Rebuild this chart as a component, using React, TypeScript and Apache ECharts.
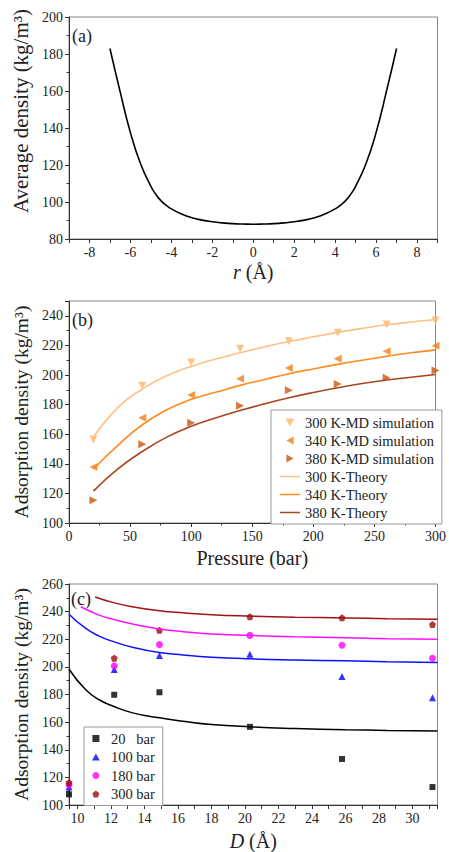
import React, { useEffect, useRef } from "react";
import * as echarts from "echarts";

// ---------- Panel (a) ----------
const aR = [-7, -6.5, -6, -5.5, -5, -4.75, -4.5, -4.25, -4, -3.5, -3, -2.5, -2, -1.5, -1, -0.5, 0, 0.5, 1, 1.5, 2, 2.5, 3, 3.5, 4, 4.25, 4.5, 4.75, 5, 5.5, 6, 6.5, 7];
const aDensity = [183, 159.5, 137.5, 120.5, 108.5, 104, 100.6, 98.2, 96.3, 93.5, 91.5, 90.2, 89.3, 88.7, 88.3, 88.1, 88.0, 88.1, 88.3, 88.7, 89.3, 90.2, 91.5, 93.5, 96.3, 98.2, 100.6, 104, 108.5, 120.5, 137.5, 159.5, 183];

// ---------- Panel (b) ----------
const bPressureMD = [20, 60, 100, 140, 180, 220, 260, 300];
const bMD300 = [156.5, 192.8, 208.4, 217.7, 222.8, 228.5, 234.2, 236.8];
const bMD340 = [137.8, 171.1, 186.5, 197.4, 204.8, 210.9, 216, 219.7];
const bMD380 = [115.4, 153.2, 167.8, 179.3, 189.7, 194, 198.2, 203];
const bPressureTh = [20, 40, 60, 80, 100, 120, 140, 160, 180, 200, 220, 240, 260, 280, 300];
const bTh300 = [158, 178, 190.5, 199.5, 205.8, 210.8, 215, 219, 222.6, 225.8, 228.8, 231.5, 233.9, 235.8, 237.5];
const bTh340 = [136.5, 152.5, 166.4, 176.5, 183.6, 188.3, 193, 197, 200.8, 204.1, 207.2, 210, 212.6, 215, 217];
const bTh380 = [121.5, 136.5, 148.3, 158, 165.3, 171, 176, 180.5, 184.6, 188.2, 191.4, 194.2, 196.6, 198.5, 200.3];

// ---------- Panel (c) ----------
const cD = [9.5, 12.2, 14.9, 20.3, 25.8, 31.2];
const c20 = [107.7, 179.8, 181.6, 156.6, 133.3, 113];
const c100 = [113, 198.1, 208.2, 209.1, 193, 177.7];
const c180 = [114.4, 200.7, 216.1, 222.8, 215.6, 206.3];
const c300 = [116.3, 206.3, 226.6, 236.2, 235.5, 230.7];
const cThD = [9.5, 10.5, 11.3, 12.15, 13.3, 14.9, 16.3, 18, 20.3, 23, 26, 28.5, 31.5];
const cTh20 = [198.3, 183.4, 176.2, 171.5, 166.7, 163.1, 160.7, 158.3, 156.6, 155.4, 154.5, 154, 153.5];
const cTh100 = [238.1, 227.8, 222.3, 218.3, 214.2, 210.4, 208.6, 207, 205.8, 205, 204.4, 203.8, 203.2];
const cTh180D = [10.2, 11.3, 12.15, 13.3, 14.9, 16.3, 18, 20.3, 23, 26, 28.5, 31.5];
const cTh180 = [243.5, 237.5, 234.4, 231, 227.5, 225.5, 223.8, 222.8, 221.8, 221, 220.4, 220];
const cTh300D = [11.06, 12.15, 13.3, 14.9, 16.3, 18, 20.3, 23, 26, 28.5, 31.5];
const cTh300 = [250.6, 246.5, 243.5, 240.6, 239.1, 237.8, 236.8, 236, 235.4, 234.9, 234.4];

const bLegendMD = ["300 K-MD simulation", "340 K-MD simulation", "380 K-MD simulation"];
const bLegendTh = ["300 K-Theory", "340 K-Theory", "380 K-Theory"];
const cLegend = ["20\u00a0\u00a0\u00a0bar", "100 bar", "180 bar", "300 bar"];

const FONT = "Liberation Serif, serif";
const TXT = "#222";

const zip = (xs: number[], ys: number[]) => xs.map((x, i) => [x, ys[i]]);

const TRI_DOWN = "path://M0,0 L10,0 L5,9 Z";
const TRI_LEFT = "path://M9,0 L9,10 L0,5 Z";
const TRI_RIGHT = "path://M0,0 L0,10 L9,5 Z";
const TRI_UP = "path://M5,0 L10,9 L0,9 Z";
const PENTA = "path://M5,0 L10,3.8 L8.1,10 L1.9,10 L0,3.8 Z";
const SQUARE = "path://M0,0 L10,0 L10,10 L0,10 Z";
const LINE_ICON = "path://M0,0 L40,0 L40,3 L0,3 Z";

function xAxisBase(gridIndex: number, min: number, max: number, extra: any) {
  return {
    type: "value",
    gridIndex,
    min,
    max,
    nameLocation: "middle",
    axisLine: { show: true, onZero: false, lineStyle: { color: "#333", width: 1 } },
    axisTick: { show: true, inside: false, length: 4, lineStyle: { color: "#333" } },
    axisLabel: { color: TXT, fontFamily: FONT, fontSize: 14, margin: 6 },
    splitLine: { show: false },
    ...extra,
  };
}

function yAxisBase(gridIndex: number, min: number, max: number, name: string, nameStyle: any, extra: any) {
  return {
    type: "value",
    gridIndex,
    min,
    max,
    interval: 20,
    name,
    nameLocation: "middle",
    nameGap: 38,
    nameTextStyle: { color: TXT, fontFamily: FONT, ...nameStyle },
    axisLine: { show: true, onZero: false, lineStyle: { color: "#333", width: 1 } },
    axisTick: { show: true, inside: false, length: 4, lineStyle: { color: "#333" } },
    minorTick: { show: true, splitNumber: 2, length: 2.5, lineStyle: { color: "#333" } },
    axisLabel: { color: TXT, fontFamily: FONT, fontSize: 14, margin: 6 },
    splitLine: { show: false },
    ...extra,
  };
}

export default function App() {
  const ref = useRef<HTMLDivElement>(null);
  useEffect(() => {
    if (!ref.current) return;
    const chart = echarts.init(ref.current, null, { renderer: "svg" });
    const gridCommon = { left: 69, width: 368.5, show: true, borderColor: "#888", borderWidth: 1, backgroundColor: "transparent" };
    const legendText = { color: TXT, fontFamily: FONT, fontSize: 14.5 };
    const option: any = {
      animation: false,
      backgroundColor: "#fff",
      textStyle: { fontFamily: FONT },
      grid: [
        { ...gridCommon, top: 17, height: 222 },
        { ...gridCommon, top: 301, height: 222 },
        { ...gridCommon, top: 584, height: 223 },
      ],
      xAxis: [
        xAxisBase(0, -9, 9, {
          interval: 1,
          name: "{i|r} (Å)",
          nameGap: 23,
          nameTextStyle: { color: TXT, fontFamily: FONT, fontSize: 20, rich: { i: { fontStyle: "italic", fontFamily: FONT, fontSize: 20, color: TXT } } },
          axisLabel: { color: TXT, fontFamily: FONT, fontSize: 14, margin: 6, formatter: (v: number) => (Math.abs(v % 2) === 0 && Math.abs(v) < 9 ? String(v) : "") },
        }),
        xAxisBase(1, 0, 300, {
          interval: 50,
          name: "Pressure (bar)",
          nameGap: 25,
          nameTextStyle: { color: TXT, fontFamily: FONT, fontSize: 20 },
          minorTick: { show: true, splitNumber: 2, length: 2.5, lineStyle: { color: "#333" } },
        }),
        xAxisBase(2, 9.5, 31.5, {
          splitNumber: 22,
          name: "{i|D} (Å)",
          nameGap: 26,
          nameTextStyle: { color: TXT, fontFamily: FONT, fontSize: 20, rich: { i: { fontStyle: "italic", fontFamily: FONT, fontSize: 20, color: TXT } } },
          axisLabel: { color: TXT, fontFamily: FONT, fontSize: 14, margin: 6, formatter: (v: number) => (Number.isInteger(v) && v % 2 === 0 ? String(v) : "") },
        }),
      ],
      yAxis: [
        yAxisBase(0, 80, 200, "Average density (kg/m³)", { fontSize: 21, padding: [0, 0, 0, 34] }, {}),
        yAxisBase(1, 100, 250, "Adsorption density (kg/m³)", { fontSize: 19.5 }, {
          axisLabel: { color: TXT, fontFamily: FONT, fontSize: 14, margin: 6, formatter: (v: number) => (v <= 240 ? String(v) : "") },
        }),
        yAxisBase(2, 100, 260, "Adsorption density (kg/m³)", { fontSize: 19.5 }, {}),
      ],
      legend: [
        {
          data: [
            ...bLegendMD.map((n) => ({ name: n })),
            ...bLegendTh.map((n) => ({ name: n, icon: LINE_ICON })),
          ],
          orient: "vertical",
          left: 271,
          top: 410,
          padding: [5, 8, 4, 9],
          itemWidth: 20,
          itemHeight: 8,
          itemGap: 3,
          borderColor: "#999",
          borderWidth: 1,
          backgroundColor: "#fff",
          textStyle: legendText,
        },
        {
          data: cLegend,
          orient: "vertical",
          left: 84,
          top: 727,
          padding: [4, 8, 4, 8],
          itemWidth: 20,
          itemHeight: 7,
          itemGap: 3.5,
          borderColor: "#999",
          borderWidth: 1,
          backgroundColor: "#fff",
          textStyle: legendText,
        },
      ],
      graphic: [
        { type: "text", left: 72, top: 27, style: { text: "(a)", fontFamily: FONT, fontSize: 18, fill: TXT } },
        { type: "text", left: 72, top: 311, style: { text: "(b)", fontFamily: FONT, fontSize: 18, fill: TXT } },
        { type: "text", left: 71, top: 590, style: { text: "(c)", fontFamily: FONT, fontSize: 18, fill: TXT } },
      ],
      series: [
        {
          name: "Average density",
          type: "line",
          xAxisIndex: 0,
          yAxisIndex: 0,
          data: zip(aR, aDensity),
          smooth: 0.5,
          showSymbol: false,
          symbol: "none",
          lineStyle: { color: "#000", width: 1.6 },
        },
        // panel b lines
        { name: bLegendTh[0], type: "line", xAxisIndex: 1, yAxisIndex: 1, data: zip(bPressureTh, bTh300), smooth: 0.5, symbol: "none", color: "#FDC088", lineStyle: { color: "#FDC088", width: 1.6 } },
        { name: bLegendTh[1], type: "line", xAxisIndex: 1, yAxisIndex: 1, data: zip(bPressureTh, bTh340), smooth: 0.5, symbol: "none", color: "#FF8A1E", lineStyle: { color: "#FF8A1E", width: 1.6 } },
        { name: bLegendTh[2], type: "line", xAxisIndex: 1, yAxisIndex: 1, data: zip(bPressureTh, bTh380), smooth: 0.5, symbol: "none", color: "#A9461C", lineStyle: { color: "#A9461C", width: 1.6 } },
        // panel b markers
        { name: bLegendMD[0], type: "scatter", xAxisIndex: 1, yAxisIndex: 1, data: zip(bPressureMD, bMD300), symbol: TRI_DOWN, symbolSize: 8, itemStyle: { color: "#FDB56A" } },
        { name: bLegendMD[1], type: "scatter", xAxisIndex: 1, yAxisIndex: 1, data: zip(bPressureMD, bMD340), symbol: TRI_LEFT, symbolSize: 8, itemStyle: { color: "#F47E14" } },
        { name: bLegendMD[2], type: "scatter", xAxisIndex: 1, yAxisIndex: 1, data: zip(bPressureMD, bMD380), symbol: TRI_RIGHT, symbolSize: 8, itemStyle: { color: "#C9560E" } },
        // panel c lines
        { name: "20 bar theory", type: "line", xAxisIndex: 2, yAxisIndex: 2, data: zip(cThD, cTh20), smooth: 0.5, symbol: "none", lineStyle: { color: "#000", width: 1.5 } },
        { name: "100 bar theory", type: "line", xAxisIndex: 2, yAxisIndex: 2, data: zip(cThD, cTh100), smooth: 0.5, symbol: "none", lineStyle: { color: "#1010FF", width: 1.5 } },
        { name: "180 bar theory", type: "line", xAxisIndex: 2, yAxisIndex: 2, data: zip(cTh180D, cTh180), smooth: 0.5, symbol: "none", lineStyle: { color: "#FF10FF", width: 1.5 } },
        { name: "300 bar theory", type: "line", xAxisIndex: 2, yAxisIndex: 2, data: zip(cTh300D, cTh300), smooth: 0.5, symbol: "none", lineStyle: { color: "#A01414", width: 1.5 } },
        // panel c markers
        { name: cLegend[0], type: "scatter", xAxisIndex: 2, yAxisIndex: 2, data: zip(cD, c20), symbol: SQUARE, symbolSize: 6, itemStyle: { color: "#000" } },
        { name: cLegend[1], type: "scatter", xAxisIndex: 2, yAxisIndex: 2, data: zip(cD, c100), symbol: TRI_UP, symbolSize: 7, itemStyle: { color: "#0000FF" } },
        { name: cLegend[2], type: "scatter", xAxisIndex: 2, yAxisIndex: 2, data: zip(cD, c180), symbol: "circle", symbolSize: 7, itemStyle: { color: "#FF00FF" } },
        { name: cLegend[3], type: "scatter", xAxisIndex: 2, yAxisIndex: 2, data: zip(cD, c300), symbol: PENTA, symbolSize: 7, itemStyle: { color: "#9B0A0A" } },
      ],
    };
    chart.setOption(option);
    return () => chart.dispose();
  }, []);
  return <div ref={ref} style={{ position: "fixed", left: 0, top: 0, width: 449, height: 852 }} />;
}
